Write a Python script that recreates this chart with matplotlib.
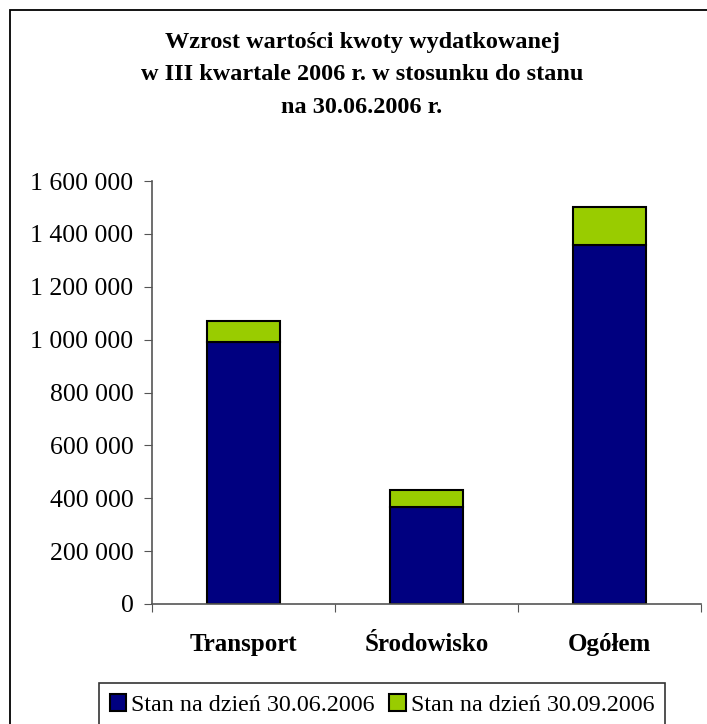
import numpy as np
import matplotlib.pyplot as plt
from matplotlib.patches import Rectangle
from matplotlib.ticker import FuncFormatter

categories = ['Transport', 'Środowisko', 'Ogółem']
stan_0606 = [992000, 366000, 1358000]
przyrost_0909 = [80000, 64000, 144000]
labels = ['Stan na dzień 30.06.2006', 'Stan na dzień 30.09.2006']
title = 'Wzrost wartości kwoty wydatkowanej\nw III kwartale 2006 r. w stosunku do stanu\nna 30.06.2006 r.'

plt.rcParams['font.family'] = ['Liberation Serif', 'DejaVu Serif']

W, H = 707, 724
fig = plt.figure(figsize=(W / 100, H / 100), dpi=100)

# outer frame (right/bottom edges fall outside the picture)
fig.patches.append(Rectangle((10 / W, -0.2), 1.2, 1.2 - 10 / H,
                             transform=fig.transFigure, fill=False,
                             edgecolor='black', linewidth=1.3))

ax = fig.add_axes([152 / W, 1 - 604 / H, (701 - 152) / W, (604 - 181) / H])
x = np.arange(len(categories))
ax.bar(x, stan_0606, width=0.4, color='#000080', edgecolor='black',
       linewidth=1.5, label=labels[0])
ax.bar(x, przyrost_0909, width=0.4, bottom=stan_0606, color='#99CC00',
       edgecolor='black', linewidth=1.5, label=labels[1])

ax.set_xlim(-0.5, 2.5)
ax.set_ylim(0, 1600000)
ax.set_yticks(np.arange(0, 1600001, 200000))
ax.yaxis.set_major_formatter(FuncFormatter(lambda v, p: f'{int(v):,}'.replace(',', ' ')))
ax.set_xticks([-0.5, 0.5, 1.5, 2.5])
ax.set_xticklabels([])
ax.set_xticks(x, minor=True)
ax.set_xticklabels(categories, minor=True, fontweight='bold', fontsize=18)
ax.tick_params(axis='x', which='minor', length=0, pad=21)
ax.tick_params(axis='x', which='major', direction='out', length=6, color='#555555')
ax.tick_params(axis='y', direction='out', length=5.8, color='#555555', labelsize=18.5, pad=7.5)
for s in ['top', 'right']:
    ax.spines[s].set_visible(False)
for s in ['left', 'bottom']:
    ax.spines[s].set_color('#555555')
    ax.spines[s].set_linewidth(1.2)

fig.text(362 / W, 1 - 75 / H, title, ha='center', va='center', fontsize=17.5,
         fontweight='bold', linespacing=1.72)

leg = fig.legend(loc='upper center', bbox_to_anchor=(382 / W, 1 - 683 / H),
                 ncol=2, fontsize=17.3, frameon=True, fancybox=False,
                 handlelength=0.7, handleheight=0.7, handletextpad=0.2,
                 columnspacing=0.6, borderpad=0.45, borderaxespad=0)
leg.get_frame().set_edgecolor('black')
leg.get_frame().set_linewidth(1.2)

fig.savefig('out.png', dpi=100)
